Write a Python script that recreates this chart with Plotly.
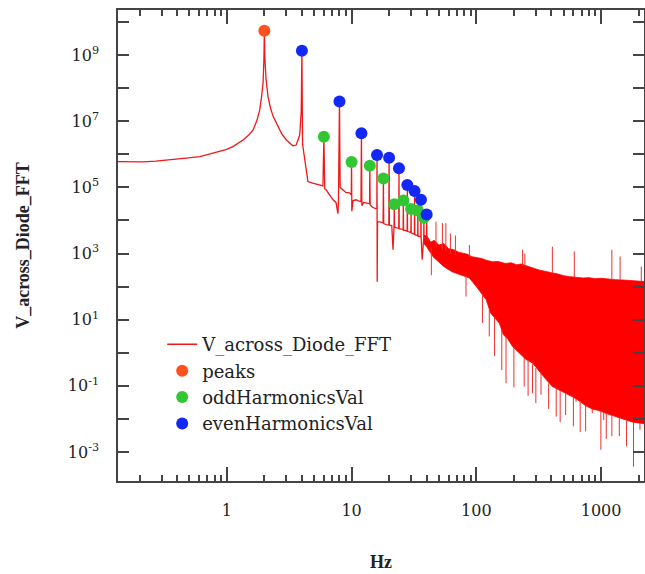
import plotly.graph_objects as go

# ---------------- data ----------------
# main FFT line (Hz, amplitude)
fft_hz = [0.134, 0.17, 0.214, 0.27, 0.33, 0.45, 0.608, 0.8, 1.0, 1.12, 1.35, 1.5, 1.624,
          1.75, 1.837, 1.9, 1.953, 1.985, 2.0, 2.02, 2.06, 2.14, 2.24, 2.35, 2.5, 2.75,
          3.0, 3.2, 3.39, 3.6, 3.84, 3.95, 4.0, 4.05, 4.2, 4.47, 4.88, 5.2, 5.55, 5.9,
          6.0, 6.1, 6.27, 6.7, 7.1, 7.5, 7.78, 7.85, 8.0, 8.1, 8.5, 9.0, 9.6, 9.95,
          10.0, 10.05, 10.3, 10.9, 11.5, 11.9, 12.0, 12.1, 12.5, 13.0, 13.5, 13.95,
          14.0, 14.1, 14.7, 15.3, 15.8, 15.95, 16.0, 16.05, 16.15, 16.3, 17.0, 17.9,
          18.0, 18.1, 19.0, 19.9, 20.0, 20.1, 21.0, 21.5, 21.9, 22.0, 22.1, 23.0, 23.9,
          24.0, 24.1, 25.0, 25.9, 26.0, 26.1, 27.0, 27.9, 28.0, 28.1, 29.0, 29.9, 30.0,
          30.1, 31.0, 31.9, 32.0, 32.1, 33.0, 33.9, 34.0, 34.1, 35.0, 35.9, 36.0, 36.1,
          36.8, 37.5, 37.9, 38.0, 38.1, 39.0, 39.9, 40.0, 40.1, 41.0, 42.0]
fft_amp = [6.0e5, 5.9e5, 5.9e5, 6.2e5, 6.8e5, 7.5e5, 8.5e5, 1.1e6, 1.4e6, 1.7e6, 2.7e6,
           3.8e6, 5.4e6, 1.1e7, 2.2e7, 5.5e7, 1.4e8, 8.0e8, 5.4e9, 8.0e8, 2.0e8, 5.5e7,
           2.5e7, 1.4e7, 8.9e6, 4.2e6, 2.7e6, 2.1e6, 1.8e6, 1.9e6, 3.8e6, 2.0e7, 1.35e9,
           2.0e6, 6.8e5, 1.5e5, 1.35e5, 1.25e5, 1.17e5, 1.1e5, 3.4e6, 9.0e4, 8.3e4, 6.0e4,
           4.2e4, 3.5e4, 1.6e4, 3.5e4, 3.9e7, 1.0e5, 8.3e4, 7.0e4, 6.8e4, 6.0e4, 5.8e5,
           1.9e4, 4.0e4, 4.2e4, 3.8e4, 3.7e4, 4.3e6, 2.8e4, 3.5e4, 3.4e4, 3.3e4, 3.2e4,
           4.5e5, 3.0e4, 2.5e4, 2.3e4, 2.2e4, 2.2e4, 9.5e5, 1.4e2, 9.0e3, 9.0e3, 9.0e3,
           8.5e3, 1.86e5, 8.0e3, 7.5e3, 7.3e3, 7.8e5, 7.2e3, 7.0e3, 1.3e3, 6.5e3, 3.1e4,
           6.3e3, 6.0e3, 5.8e3, 3.8e5, 5.6e3, 5.5e3, 5.2e3, 4.0e4, 5.0e3, 5.0e3, 4.7e3,
           1.17e5, 4.6e3, 4.5e3, 4.3e3, 2.2e4, 4.2e3, 4.0e3, 3.8e3, 7.8e4, 3.7e3, 3.6e3,
           3.4e3, 2.0e4, 3.4e3, 3.3e3, 3.2e3, 4.2e4, 3.1e3, 6.5e2, 3.0e3, 3.0e3, 1.2e4,
           2.9e3, 2.8e3, 2.7e3, 1.5e4, 2.6e3, 2.6e3, 2.4e3]

# dense noisy band above ~38 Hz (upper / lower edges)
band_hz = [38, 40, 43, 46, 50, 55, 60, 66, 72, 78, 85, 92, 100, 110, 120, 135, 150, 170,
           190, 210, 230, 260, 290, 320, 360, 400, 450, 500, 560, 640, 720, 800, 900,
           1000, 1150, 1300, 1500, 1700, 1900, 2300]
band_upper = [3.5e3, 3.5e3, 2.2e3, 2.5e3, 1.8e3, 2.0e3, 1.4e3, 1.3e3, 1.1e3, 1.0e3, 950,
              800, 760, 710, 630, 560, 575, 500, 525, 460, 480, 420, 355, 316, 280, 263,
              240, 214, 200, 190, 182, 186, 174, 178, 166, 162, 158, 151, 145, 141]
band_lower_hz = [38, 40, 45, 50, 55, 64, 75, 88, 100, 106, 120, 130, 145, 153, 165, 180,
                 195, 220, 250, 282, 320, 360, 407, 460, 520, 600, 670, 752, 850, 960,
                 1080, 1250, 1400, 1580, 1800, 2300]
band_lower = [2.0e3, 1.6e3, 800, 560, 400, 280, 224, 182, 100, 79, 40, 16, 10, 7.8, 3.5,
              2.5, 1.55, 1.0, 0.63, 0.49, 0.28, 0.16, 0.095, 0.076, 0.06, 0.045, 0.035,
              0.025, 0.02, 0.018, 0.015, 0.0126, 0.0107, 0.0093, 0.008, 0.007]

# isolated spikes sticking out of the band (upward ones, then downward ones)
spike_hz = [47.5, 53.5, 57, 62, 68, 88, 235, 245, 407, 610, 1220, 1420, 2100,
            43.6, 82.7, 112, 127, 140, 160, 173, 200, 242, 260, 282, 300, 330, 380, 437,
            470, 520, 600, 630, 680, 752, 850, 996, 1050, 1100, 1220, 1350, 1400, 1600,
            1820, 2050]
spike_from = [1.6e3, 1.3e3, 1.2e3, 1.0e3, 900, 800, 420, 400, 250, 190, 165, 160, 145,
              1500, 230, 60, 20, 12, 5, 3, 1.5, 0.7, 0.6, 0.45, 0.35, 0.25, 0.12, 0.09,
              0.075, 0.06, 0.045, 0.04, 0.035, 0.025, 0.02, 0.017, 0.016, 0.015, 0.013,
              0.011, 0.011, 0.009, 0.008, 0.0075]
spike_to = [9.1e3, 8.3e3, 8.3e3, 4.0e3, 3.5e3, 1.8e3, 1.3e3, 1.0e3, 1.6e3, 1.15e3, 1.3e3,
            810, 400,
            220, 50, 8, 3.1, 0.8, 0.3, 0.12, 0.09, 0.095, 0.05, 0.06, 0.03, 0.054, 0.02,
            0.0117, 0.008, 0.013, 0.006, 0.033, 0.004, 0.0042, 0.015, 0.00117, 0.0093,
            0.0025, 0.003, 0.0117, 0.003, 0.0015, 0.00036, 0.0047]

peaks_hz = [2.0]
peaks_amp = [5.4e9]
odd_hz = [6, 10, 14, 18, 22, 26, 30, 34, 38]
odd_amp = [3.4e6, 5.8e5, 4.5e5, 1.86e5, 3.1e4, 4.0e4, 2.2e4, 2.0e4, 1.2e4]
even_hz = [4, 8, 12, 16, 20, 24, 28, 32, 36, 40]
even_amp = [1.35e9, 3.9e7, 4.3e6, 9.5e5, 7.8e5, 3.8e5, 1.17e5, 7.8e4, 4.2e4, 1.5e4]

x_major = [1, 10, 100, 1000]
x_major_text = ["1", "10", "100", "1000"]
x_minor = [0.2, 0.3, 0.4, 0.5, 0.6, 0.7, 0.8, 0.9, 2, 3, 4, 5, 6, 7, 8, 9,
           20, 30, 40, 50, 60, 70, 80, 90, 200, 300, 400, 500, 600, 700, 800, 900, 2000]
y_exponents = list(range(-3, 11))

# ---------------- figure ----------------
RED = "#ff0000"
SERIF = "DejaVu Serif"
TITLE_SERIF = "Liberation Serif"

fig = go.Figure()

# band as one closed polygon: upper edge left->right, lower edge right->left
poly_x = band_hz + band_lower_hz[::-1]
poly_y = band_upper + band_lower[::-1]
fig.add_trace(go.Scatter(x=poly_x, y=poly_y, mode="lines", fill="toself", fillcolor=RED,
                         line=dict(width=0.8, color=RED), showlegend=False, hoverinfo="skip"))

# spikes as vertical segments
sx, sy = [], []
for f, a, b in zip(spike_hz, spike_from, spike_to):
    sx += [f, f, None]
    sy += [a, b, None]
fig.add_trace(go.Scatter(x=sx, y=sy, mode="lines", line=dict(width=1, color="#ee3030"),
                         showlegend=False, hoverinfo="skip", connectgaps=False))

fig.add_trace(go.Scatter(x=fft_hz, y=fft_amp, mode="lines", name="V_across_Diode_FFT",
                         line=dict(width=1.3, color="#f01818")))
fig.add_trace(go.Scatter(x=peaks_hz, y=peaks_amp, mode="markers", name="peaks",
                         marker=dict(size=12, color="#ff5020")))
fig.add_trace(go.Scatter(x=odd_hz, y=odd_amp, mode="markers", name="oddHarmonicsVal",
                         marker=dict(size=12, color="#33c633")))
fig.add_trace(go.Scatter(x=even_hz, y=even_amp, mode="markers", name="evenHarmonicsVal",
                         marker=dict(size=12, color="#1428f5")))

axis_common = dict(showline=True, linecolor="#444", linewidth=1.5, mirror="allticks",
                   ticks="inside", tickcolor="#444", tickwidth=1.5, showgrid=False,
                   zeroline=False, tickfont=dict(family=SERIF, size=16, color="#222"))

fig.update_xaxes(type="log", range=[-0.872, 3.344], tickmode="array", tickvals=x_major,
                 ticktext=x_major_text, ticklen=14, ticklabelstandoff=14,
                 minor=dict(tickmode="array", tickvals=x_minor, ticks="inside", ticklen=6,
                            tickcolor="#444", tickwidth=1.5, showgrid=False),
                 title=dict(text="Hz", font=dict(family=TITLE_SERIF, size=18, color="#222",
                                                 weight="bold"),
                            standoff=36),
                 **axis_common)

fig.update_yaxes(type="log", range=[-3.876, 10.36], tickmode="array",
                 tickvals=[10.0 ** e for e in y_exponents],
                 ticktext=[("10<sup>%d</sup>" % e) if e % 2 else "" for e in y_exponents],
                 ticklen=11, ticklabelstandoff=14,
                 title=dict(text="V_across_Diode_FFT",
                            font=dict(family=TITLE_SERIF, size=18, color="#222", weight="bold"),
                            standoff=33),
                 **axis_common)

fig.update_layout(
    width=645, height=574,
    margin=dict(l=118, r=1, t=10, b=93, autoexpand=False),
    paper_bgcolor="white", plot_bgcolor="white",
    showlegend=True,
    legend=dict(x=0.084, y=0.329, xanchor="left", yanchor="top", bgcolor="rgba(0,0,0,0)",
                traceorder="normal",
                font=dict(family=SERIF, size=18, color="#222"), itemwidth=30),
)

fig.write_html("out.html", config={"displayModeBar": False},
               post_script="document.body.style.margin='0';")
